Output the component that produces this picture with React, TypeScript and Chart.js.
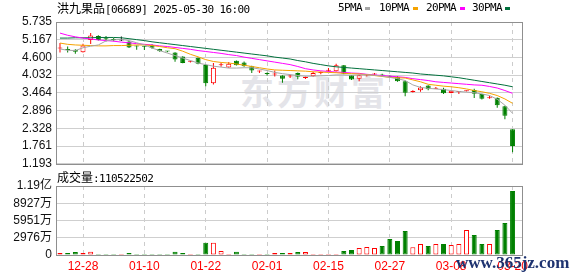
import React, { useEffect, useRef } from "react";
import { Chart, registerables } from "chart.js";

Chart.register(...registerables);

// ---------- data ----------
const titleName = "洪九果品";
const titleCode = "[06689] 2025-05-30 16:00";
const volumeLabel = "成交量";
const volumeLast = "110522502";
const watermark = "东方财富";
const siteMark = "www.365jz.com";

const legendLabels = ["5PMA", "10PMA", "20PMA", "30PMA"];

const xTickIndex = [3, 11, 19, 27, 35, 43, 51, 59];
const xTickLabels = ["12-28", "01-10", "01-22", "02-01", "02-15", "02-27", "03-08", "03-20"];

const priceTicks = [5.735, 5.167, 4.6, 4.032, 3.464, 2.896, 2.328, 1.761, 1.193];
const volTickValues = [0, 2975.7, 5951.3, 8927.0, 11902.7]; // 万股
const volTickLabels = ["0", "2976万", "5951万", "8927万", "1.19亿"];

const opens = [
  4.89, 4.86, 4.85, 4.77, 5.16, 5.29, 5.2, 5.17, 5.14, 5.11,
  4.96, 4.95, 5.0, 4.87, 4.8, 4.76, 4.63, 4.46, 4.59, 4.36,
  3.77, 4.35, 4.28, 4.49, 4.44, 4.32, 4.15, 4.08, 4.05, 4.02,
  3.99, 4.1, 3.94, 4.0, 4.1, 4.17, 4.16, 4.35, 4.03, 3.92,
  4.02, 4.05, 4.03, 3.99, 3.97, 3.84, 3.49, 3.55, 3.7, 3.6,
  3.6, 3.46, 3.49, 3.52, 3.56, 3.43, 3.29, 3.31, 3.04, 2.3,
];
const closes = [
  4.91, 4.84, 4.78, 4.98, 5.3, 5.16, 5.18, 5.16, 5.14, 4.92,
  4.95, 4.94, 4.91, 4.8, 4.79, 4.53, 4.42, 4.47, 4.4, 3.77,
  4.27, 4.36, 4.4, 4.35, 4.32, 4.18, 4.16, 4.07, 4.06, 3.92,
  4.0, 3.98, 3.95, 4.1, 4.11, 4.18, 4.35, 4.08, 3.89, 4.03,
  4.03, 4.06, 4.02, 3.98, 3.84, 3.47, 3.5, 3.64, 3.58, 3.61,
  3.45, 3.53, 3.5, 3.53, 3.44, 3.28, 3.3, 3.07, 2.73, 1.76,
];
const highs = [
  5.06, 4.95, 4.86, 5.04, 5.38, 5.31, 5.29, 5.22, 5.27, 5.13,
  4.98, 4.97, 5.02, 4.88, 4.81, 4.77, 4.64, 4.49, 4.6, 4.38,
  4.42, 4.42, 4.45, 4.5, 4.47, 4.33, 4.18, 4.12, 4.18, 4.03,
  4.05, 4.12, 3.99, 4.14, 4.15, 4.26, 4.4, 4.36, 4.04, 4.05,
  4.06, 4.1, 4.08, 4.02, 4.0, 3.86, 3.55, 3.68, 3.71, 3.65,
  3.63, 3.54, 3.51, 3.54, 3.6, 3.44, 3.37, 3.32, 3.05, 2.3,
];
const lows = [
  4.76, 4.76, 4.72, 4.76, 5.03, 5.14, 5.11, 5.12, 5.13, 4.9,
  4.85, 4.84, 4.88, 4.78, 4.77, 4.46, 4.41, 4.44, 4.38, 3.68,
  3.73, 4.3, 4.27, 4.34, 4.3, 4.1, 4.1, 4.02, 3.99, 3.79,
  3.94, 3.9, 3.91, 3.98, 4.06, 4.15, 4.15, 4.06, 3.88, 3.84,
  3.99, 4.04, 4.0, 3.94, 3.82, 3.36, 3.48, 3.5, 3.55, 3.59,
  3.43, 3.45, 3.43, 3.51, 3.3, 3.25, 3.28, 2.99, 2.62, 1.56,
];
// 万股
const volumes = [
  340, 352, 520, 338, 578, 170, 168, 175, 172, 346,
  171, 169, 174, 170, 168, 575, 349, 173, 171, 2130,
  2125, 690, 172, 580, 170, 176, 171, 169, 344, 348,
  342, 515, 520, 172, 170, 175, 173, 692, 865, 1205,
  1382, 1210, 1550, 2762, 2418, 4138, 1330, 1895, 1555, 1898,
  1894, 1722, 1900, 4315, 3452, 1896, 1899, 4310, 5522, 11052.25,
];

const ma5 = [
  4.87, 4.83, 4.82, 4.91, 4.96, 5.0, 5.13, 5.16, 5.18, 5.14,
  5.07, 5.0, 4.9, 4.82, 4.74, 4.66, 4.58, 4.5, 4.42, 4.37,
  4.32, 4.29, 4.26, 4.26, 4.27, 4.27, 4.23, 4.18, 4.12, 4.08,
  4.05, 4.02, 4.0, 4.0, 4.01, 4.02, 4.04, 4.04, 4.03, 4.04,
  4.04, 4.03, 4.0, 3.96, 3.92, 3.86, 3.72, 3.64, 3.61, 3.59,
  3.57, 3.54, 3.51, 3.49, 3.47, 3.43, 3.38, 3.26, 3.07, 2.81,
];
const ma10 = [
  5.06, 5.02, 5.0, 4.99, 4.98, 4.97, 4.97, 4.98, 4.98, 4.99,
  5.0, 5.0, 4.98, 4.95, 4.91, 4.88, 4.8, 4.7, 4.62, 4.53,
  4.47, 4.44, 4.42, 4.39, 4.35, 4.31, 4.27, 4.23, 4.2, 4.19,
  4.18, 4.17, 4.16, 4.14, 4.13, 4.12, 4.11, 4.09, 4.08, 4.07,
  4.05, 4.02, 3.99, 3.96, 3.95, 3.94, 3.88, 3.82, 3.74, 3.71,
  3.68, 3.66, 3.63, 3.59, 3.54, 3.5, 3.45, 3.38, 3.27, 3.13,
];
const ma20 = [
  5.38, 5.31, 5.26, 5.22, 5.19, 5.16, 5.14, 5.12, 5.09, 5.07,
  5.04, 5.02, 5.0, 4.97, 4.95, 4.92, 4.89, 4.86, 4.82, 4.79,
  4.76, 4.73, 4.69, 4.66, 4.61, 4.57, 4.53, 4.49, 4.45, 4.41,
  4.37, 4.31, 4.24, 4.2, 4.17, 4.15, 4.13, 4.12, 4.1, 4.09,
  4.06, 4.04, 4.02, 4.0, 3.98, 3.96, 3.92, 3.89, 3.86, 3.82,
  3.8, 3.78, 3.76, 3.74, 3.72, 3.71, 3.67, 3.62, 3.54, 3.45,
];
const ma30 = [
  5.22, 5.22, 5.23, 5.23, 5.23, 5.24, 5.24, 5.24, 5.23, 5.2,
  5.17, 5.14, 5.1, 5.07, 5.04, 5.01, 4.98, 4.95, 4.92, 4.89,
  4.86, 4.83, 4.8, 4.77, 4.74, 4.71, 4.68, 4.65, 4.61, 4.58,
  4.55, 4.5, 4.46, 4.41, 4.37, 4.33, 4.3, 4.28, 4.26, 4.24,
  4.22, 4.2, 4.18, 4.16, 4.14, 4.12, 4.1, 4.07, 4.05, 4.03,
  4.01, 3.98, 3.95, 3.91, 3.87, 3.83, 3.79, 3.75, 3.71, 3.66,
];

// ---------- styles ----------
const RED = "#ff0000";
const GREEN = "#008000";
const BLACK = "#000000";
const MA_COLORS = ["#a6a6a6", "#f5a300", "#ff00ff", "#00703c"];
const SANS = "'Liberation Sans', Arial, 'Noto Sans CJK SC', sans-serif";
const MONO = "'DejaVu Sans Mono', monospace";
const CJK = "'Noto Sans CJK SC', sans-serif";

const framePlugin = {
  id: "frame",
  afterDraw(chart: any) {
    const { ctx, chartArea: a } = chart;
    ctx.save();
    ctx.strokeStyle = "#8f8f8f";
    ctx.lineWidth = 1;
    ctx.strokeRect(
      Math.round(a.left) + 0.5,
      Math.round(a.top) + 0.5,
      Math.round(a.right - a.left),
      Math.round(a.bottom - a.top)
    );
    ctx.restore();
  },
};

function xScale(showLabels: boolean) {
  return {
    type: "linear",
    min: -0.52,
    max: 60.23,
    offset: false,
    afterBuildTicks: (s: any) => {
      s.ticks = xTickIndex.map((v) => ({ value: v }));
    },
    afterFit: (s: any) => {
      s.height = showLabels ? 21 : 0;
    },
    grid: { color: "#cccccc", drawTicks: false, offset: false, lineWidth: 1 },
    border: { display: false, dash: [4, 4] },
    ticks: {
      display: showLabels,
      autoSkip: false,
      maxRotation: 0,
      padding: 4,
      color: RED,
      font: { family: SANS, size: 12 },
      callback: (v: number) => {
        const k = xTickIndex.indexOf(v);
        return k >= 0 ? xTickLabels[k] : "";
      },
    },
  };
}

function yScale(min: number, max: number, values: number[], label: (v: number, i: number) => string) {
  return {
    type: "linear",
    min,
    max,
    afterBuildTicks: (s: any) => {
      s.ticks = values.map((v) => ({ value: v }));
    },
    afterFit: (s: any) => {
      s.width = 56;
    },
    grid: { color: "#cfcfcf", drawTicks: false },
    border: { display: false },
    ticks: {
      autoSkip: false,
      padding: 4,
      color: "#111111",
      font: { family: SANS, size: 12 },
      callback: label,
    },
  };
}

export default function App() {
  const priceRef = useRef<HTMLCanvasElement>(null);
  const volRef = useRef<HTMLCanvasElement>(null);

  useEffect(() => {
    const idx = closes.map((_, i) => i);
    const candleColor = idx.map((i) =>
      closes[i] > opens[i] ? RED : closes[i] < opens[i] ? GREEN : BLACK
    );
    const bodyFill = idx.map((i) => (closes[i] > opens[i] ? "#ffffff" : candleColor[i]));
    const mas = [ma5, ma10, ma20, ma30];

    const priceChart = new Chart(priceRef.current as HTMLCanvasElement, {
      type: "bar",
      data: {
        datasets: [
          ...mas.map((arr, k) => ({
            type: "line",
            label: legendLabels[k],
            data: idx.map((i) => ({ x: i, y: arr[i] })),
            borderColor: MA_COLORS[k],
            borderWidth: 1,
            pointRadius: 0,
            tension: 0,
            order: 0,
          })),
          {
            type: "bar",
            label: "body",
            data: idx.map((i) => ({ x: i, y: [opens[i], closes[i]] })),
            backgroundColor: bodyFill,
            borderColor: candleColor,
            borderWidth: 1,
            borderSkipped: false,
            barThickness: 5,
            minBarLength: 1,
            inflateAmount: 0,
            grouped: false,
            order: 1,
          },
          {
            type: "bar",
            label: "wick",
            data: idx.map((i) => ({ x: i, y: [lows[i], highs[i]] })),
            backgroundColor: candleColor,
            borderWidth: 0,
            barThickness: 1,
            inflateAmount: 0,
            grouped: false,
            order: 2,
          },
        ] as any,
      },
      options: {
        responsive: false,
        animation: false,
        events: [],
        layout: { padding: { left: 0, right: 56, top: 22, bottom: 10 } },
        plugins: { legend: { display: false }, tooltip: { enabled: false } },
        scales: {
          x: xScale(false) as any,
          y: yScale(
            priceTicks[priceTicks.length - 1],
            priceTicks[0],
            priceTicks,
            (v: number) => Number(v).toFixed(3)
          ) as any,
        },
      },
      plugins: [framePlugin],
    });

    const volUp = idx.map((i) => closes[i] >= opens[i]);
    const volChart = new Chart(volRef.current as HTMLCanvasElement, {
      type: "bar",
      data: {
        datasets: [
          {
            label: "volume",
            data: idx.map((i) => ({ x: i, y: volumes[i] })),
            backgroundColor: idx.map((i) => (volUp[i] ? "#ffffff" : GREEN)),
            borderColor: idx.map((i) => (volUp[i] ? RED : GREEN)),
            borderWidth: 1,
            borderSkipped: false,
            barThickness: 5,
            inflateAmount: 0,
          },
        ] as any,
      },
      options: {
        responsive: false,
        animation: false,
        events: [],
        layout: { padding: { left: 0, right: 56, top: 16, bottom: 0 } },
        plugins: { legend: { display: false }, tooltip: { enabled: false } },
        scales: {
          x: xScale(true) as any,
          y: yScale(
            0,
            volTickValues[volTickValues.length - 1],
            volTickValues,
            (_v: number, i: number) => volTickLabels[i]
          ) as any,
        },
      },
      plugins: [framePlugin],
    });

    return () => {
      priceChart.destroy();
      volChart.destroy();
    };
  }, []);

  const legendTextLeft = [338, 379, 426, 472];
  const legendSwatchLeft = [365, 413, 460, 505];

  return (
    <div
      style={{
        position: "fixed",
        left: 0,
        top: 0,
        width: 578,
        height: 276,
        overflow: "hidden",
        background: "#ffffff",
        color: "#000",
      }}
    >
      {/* background watermark */}
      <div
        style={{
          position: "absolute",
          left: 240,
          top: 74,
          fontFamily: CJK,
          fontWeight: 700,
          fontSize: 34,
          lineHeight: "34px",
          letterSpacing: 3,
          color: "#e4e4e9",
          whiteSpace: "nowrap",
        }}
      >
        {watermark}
      </div>

      <canvas
        ref={priceRef}
        width={578}
        height={175}
        style={{ position: "absolute", left: 0, top: 0 }}
      />
      <canvas
        ref={volRef}
        width={578}
        height={106}
        style={{ position: "absolute", left: 0, top: 170 }}
      />

      {/* title */}
      <div
        style={{
          position: "absolute",
          left: 57,
          top: 1,
          lineHeight: "14px",
          whiteSpace: "nowrap",
        }}
      >
        <span style={{ fontFamily: CJK, fontSize: 12 }}>{titleName}</span>
        <span style={{ fontFamily: MONO, fontSize: 11, letterSpacing: -0.6 }}>{titleCode}</span>
      </div>

      {/* legend */}
      {legendLabels.map((t, k) => (
        <React.Fragment key={t}>
          <div
            style={{
              position: "absolute",
              left: legendTextLeft[k],
              top: 1,
              lineHeight: "14px",
              fontFamily: MONO,
              fontSize: 11,
              letterSpacing: -0.6,
              whiteSpace: "nowrap",
            }}
          >
            {t}
          </div>
          <div
            style={{
              position: "absolute",
              left: legendSwatchLeft[k],
              top: 7,
              width: 5,
              height: 3,
              background: MA_COLORS[k],
            }}
          />
        </React.Fragment>
      ))}

      {/* volume caption */}
      <div
        style={{
          position: "absolute",
          left: 57,
          top: 170,
          lineHeight: "14px",
          whiteSpace: "nowrap",
        }}
      >
        <span style={{ fontFamily: CJK, fontSize: 12 }}>{volumeLabel}</span>
        <span style={{ fontFamily: MONO, fontSize: 11, letterSpacing: -0.6 }}>:{volumeLast}</span>
      </div>

      {/* site watermark */}
      <div
        style={{
          position: "absolute",
          left: 456,
          top: 254,
          fontFamily: "'Liberation Serif', serif",
          fontWeight: 700,
          fontSize: 17,
          lineHeight: "17px",
          color: "#1e3370",
          whiteSpace: "nowrap",
        }}
      >
        {siteMark}
      </div>
    </div>
  );
}
